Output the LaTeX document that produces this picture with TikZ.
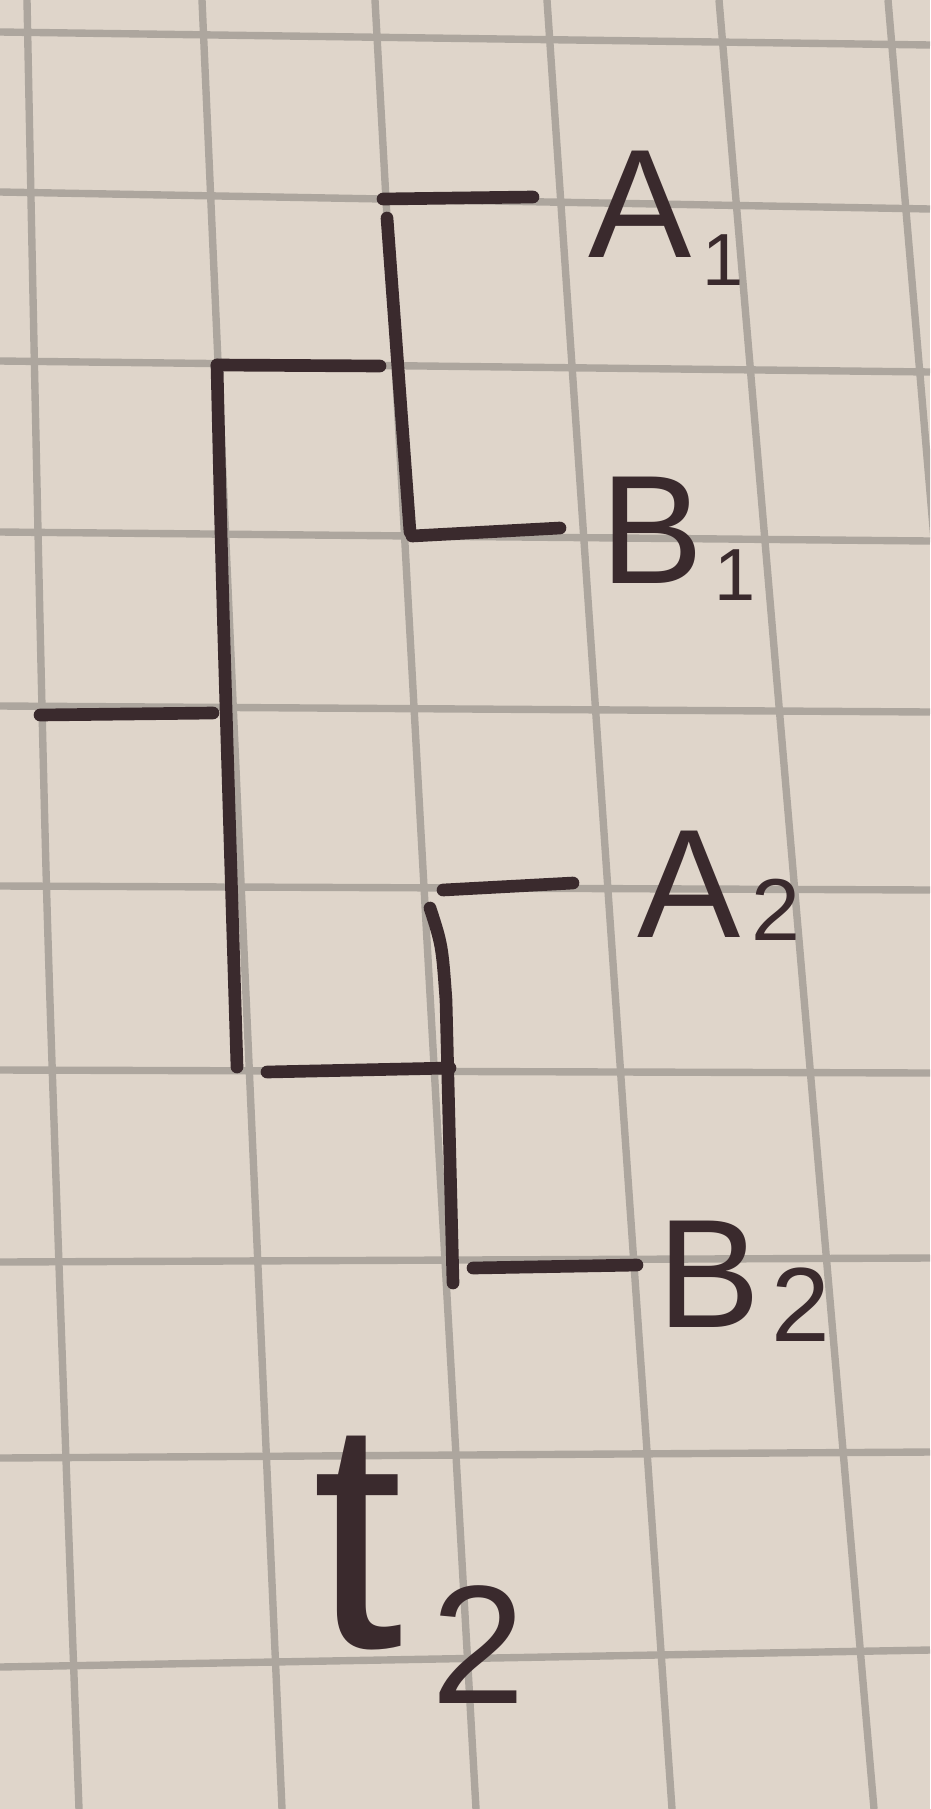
\documentclass[tikz,border=0pt]{standalone}
\usepackage{fontspec}
\setmainfont{Liberation Sans}
\usetikzlibrary{positioning}
\definecolor{paper}{HTML}{DFD5CA}
\definecolor{gridc}{HTML}{ADA69E}
\definecolor{ink}{HTML}{3A2A2D}
% subscript written a bit low, as by hand
\newcommand{\lowsub}[3]{\kern3pt\raisebox{-#1}{\fontsize{#2}{#2}\selectfont #3}}

\begin{document}
\begin{tikzpicture}[x=0.01cm, y=-0.01cm,
    gridln/.style={draw=gridc, line width=2.1pt},
    branch/.style={draw=ink, line width=3.6pt, line cap=round},
    lbl/.style={text=ink, font=\fontsize{44}{44}\selectfont, inner sep=0pt, anchor=base west},
  ]
    \useasboundingbox (0,0) rectangle (930,1809);
    \fill[paper] (0,0) rectangle (930,1809);

    % squared paper
    \begin{scope}
      \clip (0,0) rectangle (930,1809);
      \foreach \yl/\yr in {32/45, 192/209, 361/372, 532/541, 706/712, 886/890, 1070/1073, 1262/1258, 1458/1452, 1667/1650}
        \draw[gridln] (0,\yl) -- (930,\yr);
      \foreach \xa/\xb/\xc in {27/47/79, 202/242/282, 375/425/476, 547/609/672, 719/796/874, 888/965/1040}
        \draw[gridln] plot[smooth] coordinates {(\xa,0) (\xb,905) (\xc,1809)};
    \end{scope}

    % upper pair
    \coordinate (c1a) at (383,199);
    \coordinate (a1) at (533,197);
    \coordinate (c1t) at (387,218);
    \coordinate (c1b) at (410,532);
    \coordinate (c1c) at (412,536);
    \coordinate (b1) at (560,528);
    % lower pair
    \coordinate (c2a) at (443,890);
    \coordinate (a2) at (573,883);
    \coordinate (c2t) at (430,908);
    \coordinate (c2m) at (446,1000);
    \coordinate (c2b) at (453,1283);
    \coordinate (c2c) at (473,1268);
    \coordinate (b2) at (637,1265);
    % inner branch and root
    \coordinate (pt) at (217,365);
    \coordinate (pe) at (380,366);
    \coordinate (pb) at (237,1067);
    \coordinate (ce) at (267,1072);
    \coordinate (cj) at (450,1068);
    \coordinate (r0) at (40,715);
    \coordinate (r1) at (213,713);

    \draw[branch] (c1a) -- (a1);
    \draw[branch] (c1t) -- (c1b);
    \draw[branch] (c1c) -- (b1);
    \draw[branch] (pt) -- (pe);
    \draw[branch] (pt) .. controls (222,580) .. (pb);
    \draw[branch] (r0) -- (r1);
    \draw[branch] (ce) -- (cj);
    \draw[branch] (c2a) -- (a2);
    \draw[branch] (c2t) .. controls (442,945) .. (c2m) -- (c2b);
    \draw[branch] (c2c) -- (b2);

    \node[lbl] (A1) at (588,257) {A\lowsub{8pt}{21}{1}};
    \node[lbl] (B1) at (600,583) {B\lowsub{5pt}{21}{1}};
    \node[lbl] (A2) at (637,937) {A\lowsub{1pt}{25}{2}};
    \node[lbl] (B2) at (657,1327) {B\lowsub{4pt}{30}{2}};
    \node[lbl] (T2) at (312,1647) {\fontsize{93}{93}\selectfont t\kern5pt\lowsub{16pt}{48}{2}};
  \end{tikzpicture}
\end{document}
